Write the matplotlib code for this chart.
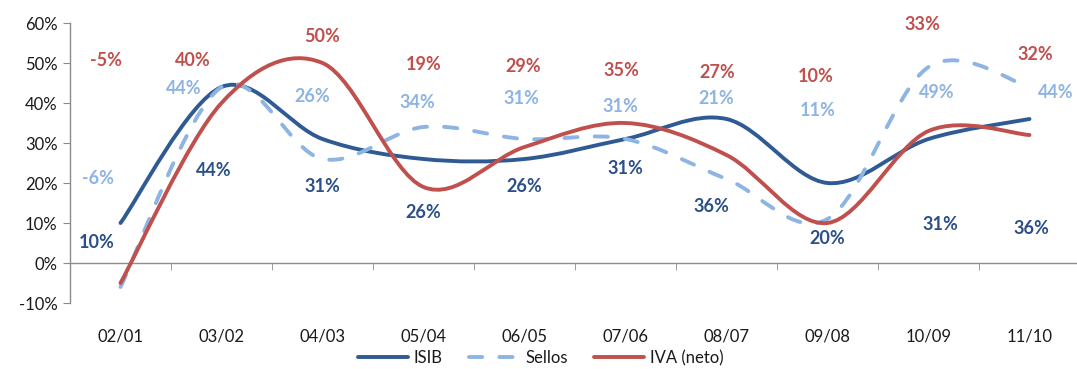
import numpy as np
import matplotlib
matplotlib.use("Agg")
import matplotlib.pyplot as plt
from matplotlib.path import Path
from matplotlib.patches import PathPatch
from matplotlib.lines import Line2D

plt.rcParams['font.family'] = ['Lato', 'DejaVu Sans']

# Data
periods = ["02/01", "03/02", "04/03", "05/04", "06/05", "07/06", "08/07", "09/08", "10/09", "11/10"]
isib = [10, 44, 31, 26, 26, 31, 36, 20, 31, 36]
sellos = [-6, 44, 26, 34, 31, 31, 21, 11, 49, 44]
iva = [-5, 40, 50, 19, 29, 35, 27, 10, 33, 32]

# Label placement (category offset, y position in %)
isib_lbl_dx = [-0.24, -0.08, 0, 0, 0, 0, -0.15, 0, 0.12, 0.02]
isib_lbl_y = [5.25, 23, 19.25, 12.75, 19.25, 23.5, 14, 6, 9.5, 8.5]
sellos_lbl_dx = [-0.22, -0.37, -0.10, -0.06, -0.03, -0.05, -0.10, -0.10, 0.08, 0.26]
sellos_lbl_y = [21, 43.5, 41.75, 40, 41, 39.25, 41.25, 38, 42.75, 42.5]
iva_lbl_dx = [-0.14, -0.28, 0, 0, -0.01, -0.04, -0.09, -0.12, -0.06, 0.06]
iva_lbl_y = [50.75, 50.75, 56.75, 49.75, 49, 48.25, 47.75, 46.75, 59.75, 52.25]

c_isib = "#2F5A93"
c_sellos = "#8DB4E2"
c_iva = "#C0504D"
lbl_isib = "#2B5087"
lw = 2.8
dash = (0, (3.4, 4.4))


def smooth_path(xs, ys):
    """Bezier path through the points, spreadsheet-style smoothing."""
    pts = np.column_stack([xs, ys]).astype(float)
    n = len(pts)
    verts = [pts[0]]
    codes = [Path.MOVETO]
    for i in range(n - 1):
        p0 = pts[i - 1] if i > 0 else pts[i]
        p1 = pts[i]
        p2 = pts[i + 1]
        p3 = pts[i + 2] if i + 2 < n else pts[i + 1]
        c1 = p1 + (p2 - p0) / 6.0
        c2 = p2 - (p3 - p1) / 6.0
        verts += [c1, c2, p2]
        codes += [Path.CURVE4] * 3
    return Path(verts, codes)


fig = plt.figure(figsize=(10.77, 3.69), dpi=100)
ax = fig.add_axes([70 / 1077, 1 - 303 / 369, 1010 / 1077, 280 / 369])

x = np.arange(len(periods))

series = [
    (isib, c_isib, "-", "ISIB"),
    (sellos, c_sellos, dash, "Sellos"),
    (iva, c_iva, "-", "IVA (neto)"),
]
handles = []
for vals, col, ls, name in series:
    patch = PathPatch(smooth_path(x, vals), facecolor="none", edgecolor=col,
                      lw=lw, linestyle=ls, capstyle="round", joinstyle="round",
                      zorder=3)
    ax.add_patch(patch)
    handles.append(Line2D([], [], color=col, lw=lw, linestyle=ls,
                          dash_capstyle="round", solid_capstyle="round", label=name))

label_sets = [
    (isib, isib_lbl_dx, isib_lbl_y, lbl_isib),
    (sellos, sellos_lbl_dx, sellos_lbl_y, c_sellos),
    (iva, iva_lbl_dx, iva_lbl_y, c_iva),
]
for vals, dxs, ys, col in label_sets:
    for i, (v, dx, yy) in enumerate(zip(vals, dxs, ys)):
        ax.text(i + dx, yy, f"{v}%", color=col, fontsize=13, fontweight="bold",
                ha="center", va="center", clip_on=False, zorder=4)

ax.set_xlim(-0.5, len(periods) - 0.5)
ax.set_ylim(-10, 60)
ax.set_yticks(np.arange(-10, 61, 10))
ax.set_yticklabels([f"{t}%" for t in range(-10, 61, 10)])

ax.set_xticks(x)
ax.set_xticklabels(periods)
ax.set_xticks(np.arange(0.5, len(periods) - 1, 1.0), minor=True)

for s in ["top", "right"]:
    ax.spines[s].set_visible(False)
ax.spines["bottom"].set_position(("data", 0))
ax.spines["bottom"].set_color("#8C8C8C")
ax.spines["left"].set_color("#8C8C8C")
ax.spines["bottom"].set_linewidth(1.0)
ax.spines["left"].set_linewidth(1.0)

ax.tick_params(axis="y", which="major", direction="out", length=5, color="#8C8C8C",
               labelsize=12, labelcolor="#1A1A1A", pad=4)
ax.tick_params(axis="x", which="major", length=0, labelsize=12,
               labelcolor="#1A1A1A", pad=47)
ax.tick_params(axis="x", which="minor", direction="out", length=5, color="#8C8C8C")

fig.legend(handles=handles, loc="center", bbox_to_anchor=(0.502, 0.03), ncol=3,
           frameon=False, fontsize=12, handlelength=3.0, handletextpad=0.35,
           columnspacing=1.6, labelcolor="#1A1A1A")

fig.savefig("out.png", dpi=100)
